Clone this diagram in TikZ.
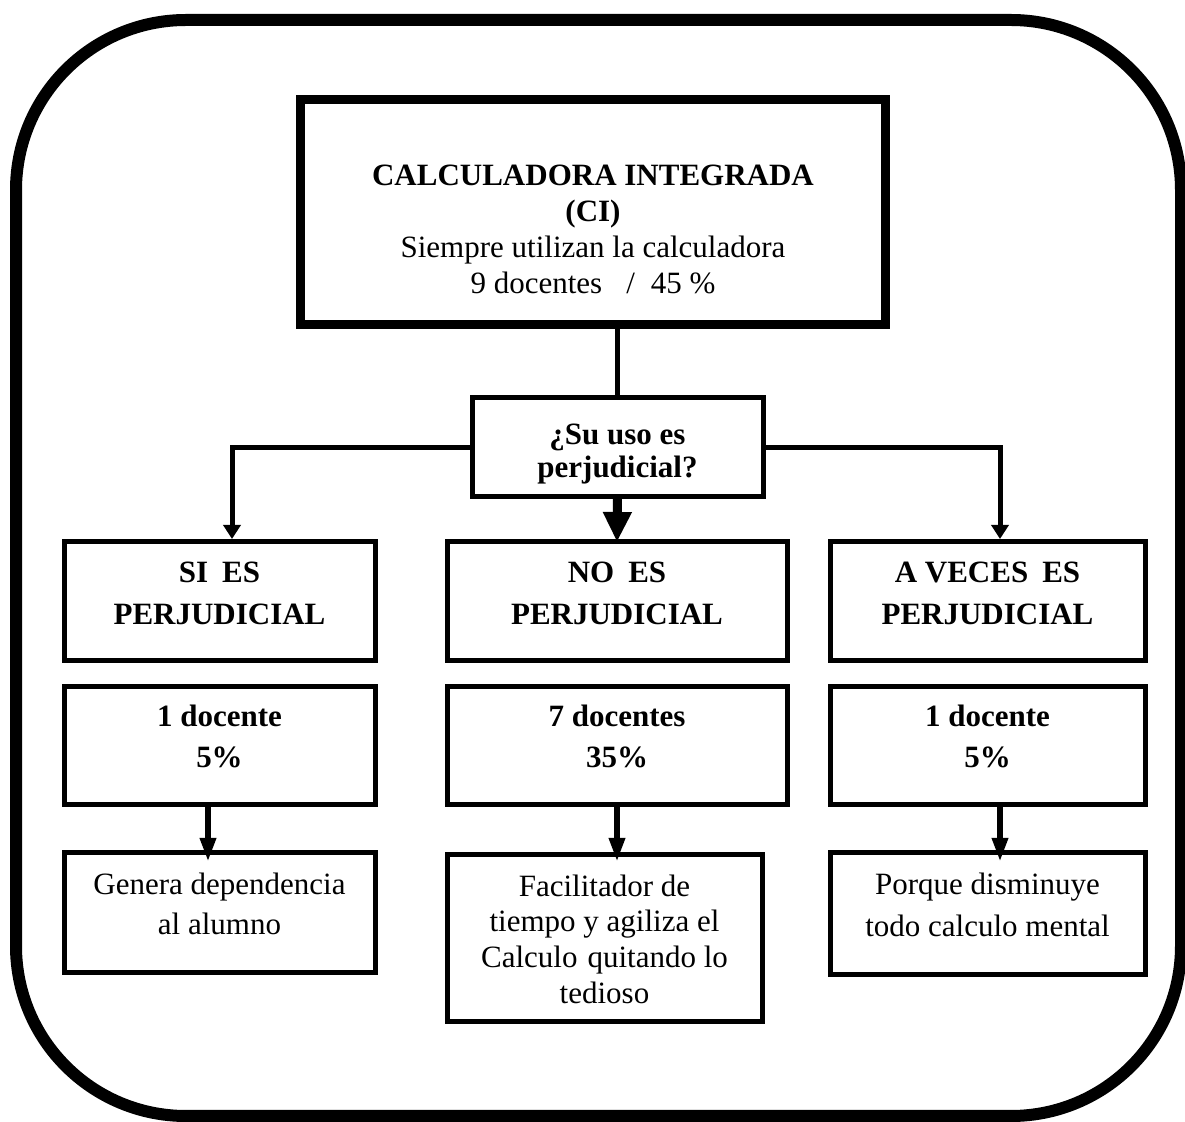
\documentclass[tikz,border=0pt]{standalone}
\usepackage{fontspec}
\setmainfont{Liberation Serif}
\usetikzlibrary{arrows.meta,calc}

\begin{document}
\begin{tikzpicture}[x=0.5pt,y=-0.5pt,
  box/.style={draw, line width=2.5pt, inner sep=0pt, outer sep=0pt},
  bigbox/.style={draw, line width=4.5pt, inner sep=0pt, outer sep=0pt},
  txt/.style={anchor=base, align=center, inner sep=0pt, font=\fontsize{15.5}{#1}\selectfont},
  txt/.default=18pt,
  conn/.style={line width=2.5pt},
  thin tip/.style={-{Triangle[width=8.5pt,length=7pt]}},
  drop tip/.style={line width=3pt, -{Triangle[width=7.5pt,length=12pt]}},
  main tip/.style={line width=4.5pt, -{Triangle[width=13.5pt,length=15pt]}}
]
\useasboundingbox (0,0) rectangle (1185,1122);

% rounded outer frame
\draw[line width=6pt, rounded corners=85pt] (16,20) rectangle (1181,1116);

% boxes
\node[bigbox, minimum width=292.5pt, minimum height=112.5pt] (top) at (592.5,212.5) {};
\node[box, minimum width=145.5pt, minimum height=49.5pt] (q) at (617.5,447.5) {};

\node[box, minimum width=155.5pt, minimum height=59.5pt] (si1) at (219.5,601.5) {};
\node[box, minimum width=170pt,   minimum height=59.5pt] (no1) at (617,601.5) {};
\node[box, minimum width=157.5pt, minimum height=59.5pt] (av1) at (987.5,601.5) {};

\node[box, minimum width=155.5pt, minimum height=59pt] (si2) at (219.5,746) {};
\node[box, minimum width=170pt,   minimum height=59pt] (no2) at (617,746) {};
\node[box, minimum width=157.5pt, minimum height=59pt] (av2) at (987.5,746) {};

\node[box, minimum width=155.5pt, minimum height=60pt]   (si3) at (219.5,913) {};
\node[box, minimum width=157.5pt, minimum height=83.5pt] (no3) at (604.5,938.5) {};
\node[box, minimum width=157.5pt, minimum height=61pt]   (av3) at (987.5,914) {};

% texts (each node is placed at the baseline of its last line)
\node[txt=18pt] (ttop) at (593,294) {\bfseries CALCULADORA INTEGRADA\\ \bfseries (CI)\\
  Siempre utilizan la calculadora\\ 9 docentes\hspace{12pt}/\hspace{8pt}45 \%};
\node[txt=16.5pt] (tq) at (617.5,478) {\bfseries ¿Su uso es\\ \bfseries perjudicial?};

\node[txt=21pt] (tsi1) at (219.5,625) {\bfseries SI\hspace{7pt}ES\\ \bfseries PERJUDICIAL};
\node[txt=21pt] (tno1) at (617,625) {\bfseries NO\hspace{7pt}ES\\ \bfseries PERJUDICIAL};
\node[txt=21pt] (tav1) at (987.5,625) {\bfseries A VECES\hspace{7pt}ES\\ \bfseries PERJUDICIAL};

\node[txt=20.5pt] (tsi2) at (219.5,768) {\bfseries 1 docente\\ \bfseries 5\%};
\node[txt=20.5pt] (tno2) at (617,768) {\bfseries 7 docentes\\ \bfseries 35\%};
\node[txt=20.5pt] (tav2) at (987.5,768) {\bfseries 1 docente\\ \bfseries 5\%};

\node[txt=20pt] (tsi3) at (219.5,935) {Genera dependencia\\ al alumno};
\node[txt=18pt] (tno3) at (604.5,1004) {Facilitador de\\ tiempo y agiliza el\\
  Calculo\hspace{5pt}quitando lo\\ tedioso};
\node[txt=21pt] (tav3) at (987.5,937) {Porque disminuye\\ todo calculo mental};

% connectors
\draw[conn] (top.south -| q.north) -- (q.north);
\draw[conn, thin tip] (q.west) -| ($(si1.north)+(12.5,-3)$);
\draw[conn, thin tip] (q.east) -| ($(av1.north)+(12.5,-3)$);
\draw[main tip] (q.south) -- (no1.north);

\draw[drop tip] ($(si2.south)+(-11.5,0)$) -- ($(si2.south |- si3.north)+(-11.5,9)$);
\draw[drop tip] (no2.south) -- ($(no2.south |- no3.north)+(0,7)$);
\draw[drop tip] ($(av2.south)+(12.5,0)$) -- ($(av2.south |- av3.north)+(12.5,9)$);
\end{tikzpicture}
\end{document}
